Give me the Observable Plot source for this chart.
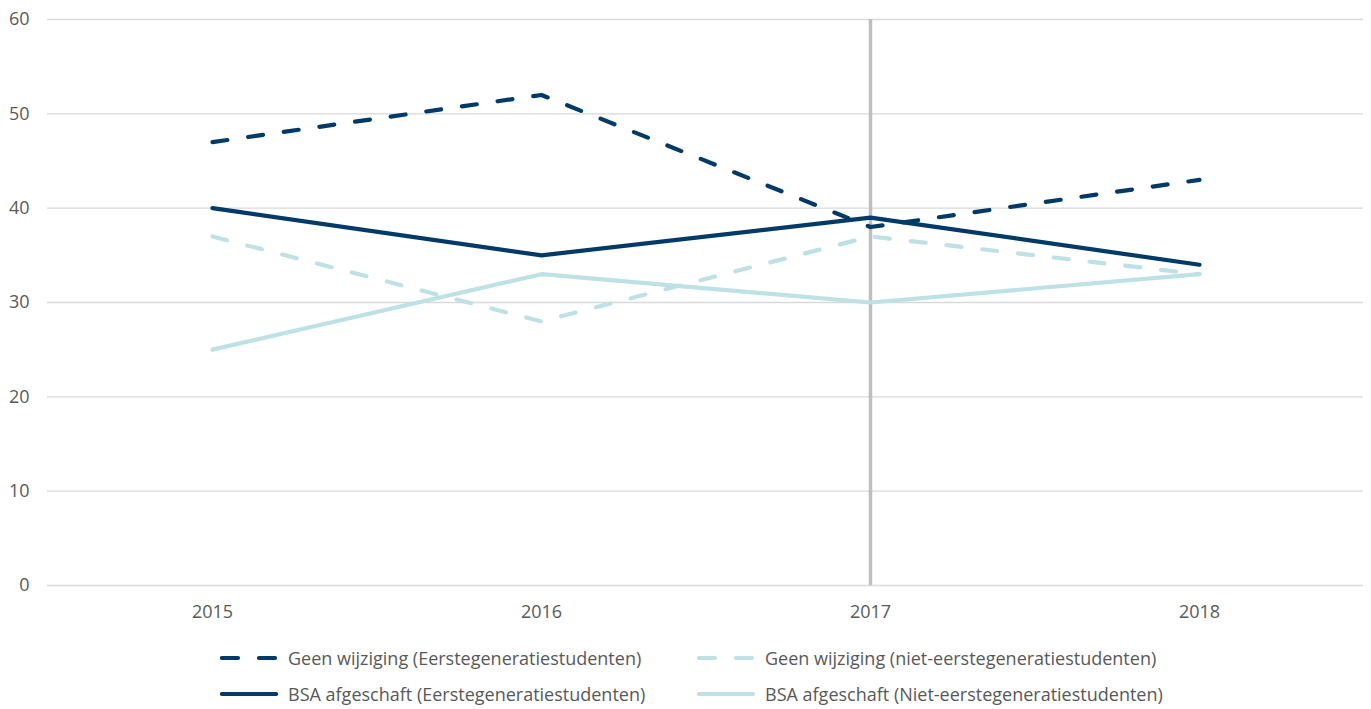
<!DOCTYPE html>
<html>
<head>
<meta charset="utf-8">
<script src="https://cdn.jsdelivr.net/npm/d3@7"></script>
<script src="https://cdn.jsdelivr.net/npm/@observablehq/plot@0.6"></script>
<style>
  html, body { margin: 0; padding: 0; background: #fff; }
  #chart { width: 1371px; }
  .legend { position: relative; width: 1371px; height: 84px; font-family: "Open Sans", sans-serif; font-size: 18px; color: #595959; }
  .item { position: absolute; display: flex; align-items: center; height: 26px; }
  .item svg { margin-right: 10px; }
</style>
</head>
<body>
<div id="chart"></div>
<div class="legend" id="legend"></div>
<script>
const years = ["2015", "2016", "2017", "2018"];
const seriesNames = [
  "Geen wijziging (Eerstegeneratiestudenten)",
  "Geen wijziging (niet-eerstegeneratiestudenten)",
  "BSA afgeschaft (Eerstegeneratiestudenten)",
  "BSA afgeschaft (Niet-eerstegeneratiestudenten)"
];
const geenEerste = [47, 52, 38, 43];
const geenNiet = [37, 28, 37, 33];
const bsaEerste = [40, 35, 39, 34];
const bsaNiet = [25, 33, 30, 33];
const yTicks = [0, 10, 20, 30, 40, 50, 60];
const markerYear = "2017";

const dark = "#003a69";
const light = "#bde1e4";
const styles = [
  {color: dark, dash: "15,21"},
  {color: light, dash: "15,21"},
  {color: dark, dash: null},
  {color: light, dash: null}
];
const valuesList = [geenEerste, geenNiet, bsaEerste, bsaNiet];

const data = [];
valuesList.forEach((vals, i) => {
  vals.forEach((v, j) => data.push({series: seriesNames[i], year: years[j], value: v}));
});

const drawOrder = [3, 1, 2, 0];

const marks = [
  Plot.ruleY(yTicks, {stroke: "#d9d9d9", strokeWidth: 1.3}),
  Plot.ruleX([markerYear], {y1: 0, y2: 60, stroke: "#bfbfbf", strokeWidth: 3.5}),
  ...drawOrder.map(i => Plot.line(data.filter(d => d.series === seriesNames[i]), {
    x: "year", y: "value",
    stroke: styles[i].color,
    strokeWidth: 4.2,
    strokeDasharray: styles[i].dash,
    strokeLinecap: "round",
    strokeLinejoin: "round"
  })),
  Plot.axisX({tickSize: 0, tickPadding: 20, fontSize: 18, fill: "#595959"}),
  Plot.axisY({ticks: yTicks, tickSize: 0, tickPadding: 18, fontSize: 18, fill: "#595959"})
];

const chart = Plot.plot({
  width: 1371,
  height: 625,
  marginLeft: 47,
  marginRight: 8,
  marginTop: 19,
  marginBottom: 40,
  style: {fontFamily: "'Open Sans', sans-serif", fontSize: "18px", color: "#595959", background: "#fff", overflow: "visible"},
  x: {type: "point", domain: years, padding: 0.5, label: null},
  y: {domain: [0, 60], label: null},
  marks
});
document.getElementById("chart").appendChild(chart);

const legend = document.getElementById("legend");
const positions = [
  {left: 220, top: 20}, {left: 697, top: 20},
  {left: 220, top: 56}, {left: 697, top: 56}
];
seriesNames.forEach((name, i) => {
  const div = document.createElement("div");
  div.className = "item";
  div.style.left = positions[i].left + "px";
  div.style.top = (positions[i].top) + "px";
  const s = styles[i];
  div.innerHTML = `<svg width="58" height="10"><line x1="2" y1="5" x2="56" y2="5" stroke="${s.color}" stroke-width="4.2" stroke-linecap="round" ${s.dash ? 'stroke-dasharray="16,21"' : ''}/></svg><span>${name}</span>`;
  legend.appendChild(div);
});
</script>
</body>
</html>
